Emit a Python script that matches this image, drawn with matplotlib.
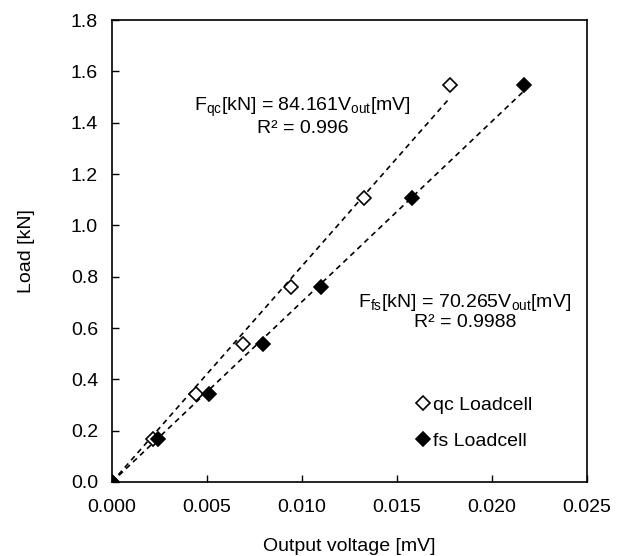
import numpy as np
import matplotlib
matplotlib.use("Agg")
import matplotlib.pyplot as plt
from matplotlib.ticker import FormatStrFormatter

plt.rcParams['font.family'] = ['Liberation Sans', 'DejaVu Sans']
plt.rcParams['mathtext.fontset'] = 'custom'
plt.rcParams['mathtext.rm'] = 'Liberation Sans'

# data
qc_v = [0.0, 0.00214, 0.00442, 0.00688, 0.00942, 0.01325, 0.01777]
qc_load = [0.0, 0.169, 0.342, 0.536, 0.760, 1.106, 1.548]
fs_v = [0.0, 0.00240, 0.00512, 0.00793, 0.01102, 0.01579, 0.02167]
fs_load = [0.0, 0.169, 0.342, 0.536, 0.760, 1.106, 1.548]

qc_slope = 84.161
fs_slope = 70.265
qc_r2 = 0.996
fs_r2 = 0.9988

fig = plt.figure(figsize=(6.37, 5.56), dpi=100)
ax = fig.add_axes([0.1758, 0.1331, 0.7457, 0.8309])

# trendlines through origin
xq = np.array([0, max(qc_v)])
xf = np.array([0, max(fs_v)])
ax.plot(xq, qc_slope * xq, color='black', lw=1.2, ls=(0, (3.2, 2.6)), zorder=2)
ax.plot(xf, fs_slope * xf, color='black', lw=1.2, ls=(0, (3.2, 2.6)), zorder=2)

ax.plot(qc_v, qc_load, ls='none', marker='D', ms=7, mfc='white', mec='black',
        mew=1.2, label='qc Loadcell', zorder=3)
ax.plot(fs_v, fs_load, ls='none', marker='D', ms=7, mfc='black', mec='black',
        mew=1.2, label='fs Loadcell', zorder=4)

ax.set_xlim(0, 0.025)
ax.set_ylim(0, 1.8)
ax.set_xticks(np.arange(0, 0.0251, 0.005))
ax.set_yticks(np.arange(0, 1.81, 0.2))
ax.xaxis.set_major_formatter(FormatStrFormatter('%.3f'))
ax.yaxis.set_major_formatter(FormatStrFormatter('%.1f'))
ax.tick_params(direction='in', length=5, width=1, labelsize=14, colors='black')
ax.tick_params(axis='x', pad=12)
ax.tick_params(axis='y', pad=10)
for s in ax.spines.values():
    s.set_linewidth(1.2)
    s.set_color('black')

ax.set_xlabel('Output voltage [mV]', fontsize=14, labelpad=16)
ax.set_ylabel('Load [kN]', fontsize=14, labelpad=26)

ax.text(0.01005, 1.461,
        r'F$_{\mathregular{qc}}$[kN] = %.3fV$_{\mathregular{out}}$[mV]' % qc_slope,
        ha='center', va='center', fontsize=14)
ax.text(0.01005, 1.379, 'R² = %.3f' % qc_r2, ha='center', va='center', fontsize=14)
ax.text(0.01858, 0.701,
        r'F$_{\mathregular{fs}}$[kN] = %.3fV$_{\mathregular{out}}$[mV]' % fs_slope,
        ha='center', va='center', fontsize=14)
ax.text(0.01858, 0.623, 'R² = %.4f' % fs_r2, ha='center', va='center', fontsize=14)

ax.legend(loc='upper left', bbox_to_anchor=(0.623, 0.207), frameon=False, fontsize=14,
          handlelength=0.6, handletextpad=0.2, labelspacing=0.95, borderpad=0)

fig.savefig('out.png', dpi=100)
